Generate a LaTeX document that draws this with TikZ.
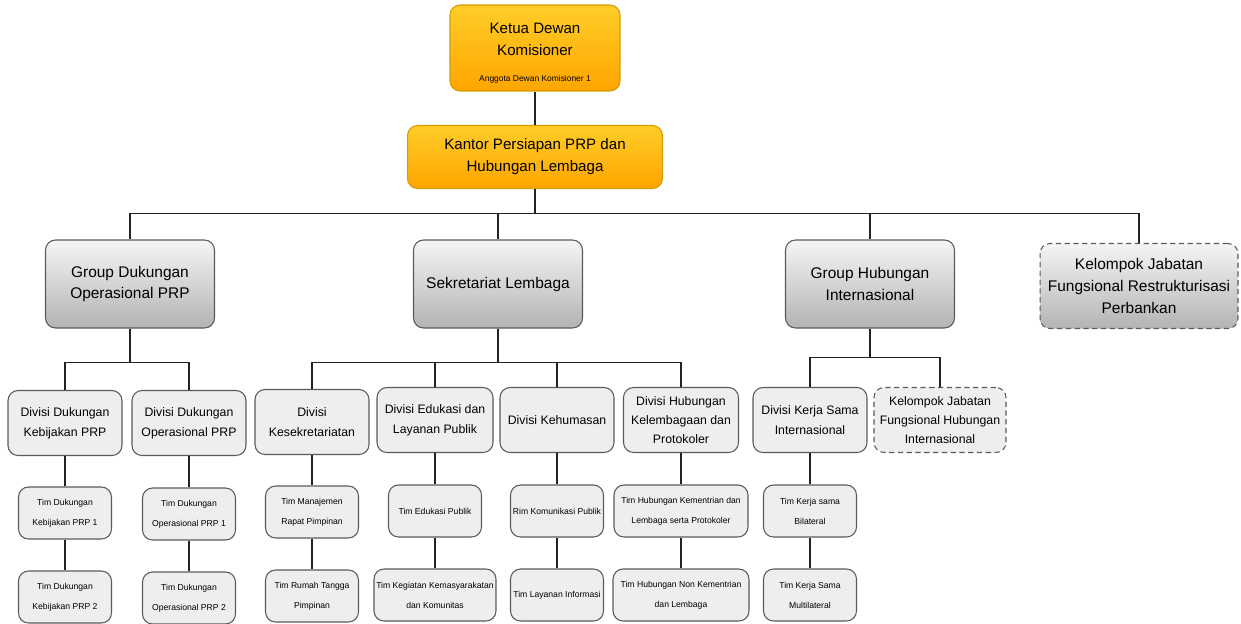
\documentclass[tikz,border=0pt]{standalone}
\usepackage{fontspec}
\setmainfont{Liberation Sans}
\definecolor{orgtop}{HTML}{FFCD28}
\definecolor{orgbot}{HTML}{FFA500}
\definecolor{orgline}{HTML}{D79B00}
\definecolor{grytop}{HTML}{F5F5F5}
\definecolor{grybot}{HTML}{B3B3B3}
\definecolor{boxline}{HTML}{5A5A5A}
\definecolor{divfill}{HTML}{EEEEEE}
\definecolor{wire}{HTML}{222222}
\tikzset{
  box/.style={draw=boxline, rounded corners=0.2cm, align=center, inner sep=1pt, line width=0.6pt},
  topbox/.style={box, draw=orgline, top color=orgtop, bottom color=orgbot, font=\fontsize{8.6}{12.5}\selectfont},
  grpbox/.style={box, top color=grytop, bottom color=grybot, minimum width=3.38cm, minimum height=1.76cm, font=\fontsize{8.8}{12.5}\selectfont},
  divbox/.style={box, fill=divfill, minimum width=2.28cm, minimum height=1.3cm, font=\fontsize{7}{11.5}\selectfont},
  timbox/.style={box, fill=divfill, minimum width=1.86cm, minimum height=1.04cm, font=\fontsize{4.9}{11.3}\selectfont},
  dashbox/.style={dash pattern=on 3pt off 2pt},
  wire/.style={draw=wire, line width=0.6pt}
}
\begin{document}
\begin{tikzpicture}[x=0.02cm, y=-0.02cm]
  \useasboundingbox (0,0) rectangle (1241,623);
  % top
  \node[topbox, minimum width=3.4cm, minimum height=1.72cm] (ketua) at (535,48)
    {\rule{0pt}{12pt}Ketua Dewan\\Komisioner\\[2.5pt]{\fontsize{4.8}{6}\selectfont Anggota Dewan Komisioner 1}};
  \node[topbox, minimum width=5.1cm, minimum height=1.26cm] (kantor) at (535,157)
    {Kantor Persiapan PRP dan\\Hubungan Lembaga};
  % groups
  \node[grpbox] (gdo) at (130,284) {Group Dukungan\\Operasional PRP};
  \node[grpbox] (sek) at (498,284) {Sekretariat Lembaga};
  \node[grpbox] (ghi) at (870,284) {Group Hubungan\\Internasional};
  \node[grpbox, dashbox, minimum width=3.96cm, minimum height=1.7cm] (kjr) at (1139,286)
    {Kelompok Jabatan\\Fungsional Restrukturisasi\\Perbankan};
  % divisions
  \node[divbox] (dkp) at (65,423) {Divisi Dukungan\\Kebijakan PRP};
  \node[divbox] (dop) at (189,423) {Divisi Dukungan\\Operasional PRP};
  \node[divbox] (dks) at (312,422) {Divisi\\Kesekretariatan};
  \node[divbox, minimum width=2.32cm] (dedu) at (435,420) {Divisi Edukasi dan\\Layanan Publik};
  \node[divbox] (dhum) at (557,420) {Divisi Kehumasan};
  \node[divbox, minimum width=2.3cm, font=\fontsize{7}{11}\selectfont] (dhkp) at (681,420) {Divisi Hubungan\\Kelembagaan dan\\Protokoler};
  \node[divbox] (dksi) at (810,420) {Divisi Kerja Sama\\Internasional};
  \node[divbox, dashbox, minimum width=2.64cm, font=\fontsize{7}{11}\selectfont] (kjhi) at (940,420)
    {Kelompok Jabatan\\Fungsional Hubungan\\Internasional};
  % teams
  \node[timbox] (t1) at (65,513) {Tim Dukungan\\Kebijakan PRP 1};
  \node[timbox] (t2) at (65,597) {Tim Dukungan\\Kebijakan PRP 2};
  \node[timbox] (t3) at (189,514) {Tim Dukungan\\Operasional PRP 1};
  \node[timbox] (t4) at (189,598) {Tim Dukungan\\Operasional PRP 2};
  \node[timbox] (t5) at (312,512) {Tim Manajemen\\Rapat Pimpinan};
  \node[timbox] (t6) at (312,596) {Tim Rumah Tangga\\Pimpinan};
  \node[timbox] (t7) at (435,511) {Tim Edukasi Publik};
  \node[timbox, minimum width=2.44cm] (t8) at (435,595) {Tim Kegiatan Kemasyarakatan\\dan Komunitas};
  \node[timbox] (t9) at (557,511) {Rim Komunikasi Publik};
  \node[timbox] (t10) at (557,595) {Tim Layanan Informasi};
  \node[timbox, minimum width=2.68cm] (t11) at (681,511) {Tim Hubungan Kementrian dan\\Lembaga serta Protokoler};
  \node[timbox, minimum width=2.72cm] (t12) at (681,595) {Tim Hubungan Non Kementrian\\dan Lembaga};
  \node[timbox] (t13) at (810,511) {Tim Kerja sama\\Bilateral};
  \node[timbox] (t14) at (810,595) {Tim Kerja Sama\\Multilateral};
  % connectors
  \draw[wire] (ketua) -- (kantor);
  \foreach \g in {gdo,sek,ghi,kjr}
    \draw[wire] (kantor.south) -- ++(0,24) -| (\g.north);
  \foreach \d in {dkp,dop}
    \draw[wire] (gdo.south) -- ++(0,34) -| (\d.north);
  \foreach \d in {dks,dedu,dhum,dhkp}
    \draw[wire] (sek.south) -- ++(0,34) -| (\d.north);
  \foreach \d in {dksi,kjhi}
    \draw[wire] (ghi.south) -- ++(0,29) -| (\d.north);
  \draw[wire] (dkp) -- (t1) -- (t2);
  \draw[wire] (dop) -- (t3) -- (t4);
  \draw[wire] (dks) -- (t5) -- (t6);
  \draw[wire] (dedu) -- (t7) -- (t8);
  \draw[wire] (dhum) -- (t9) -- (t10);
  \draw[wire] (dhkp) -- (t11) -- (t12);
  \draw[wire] (dksi) -- (t13) -- (t14);
\end{tikzpicture}
\end{document}
